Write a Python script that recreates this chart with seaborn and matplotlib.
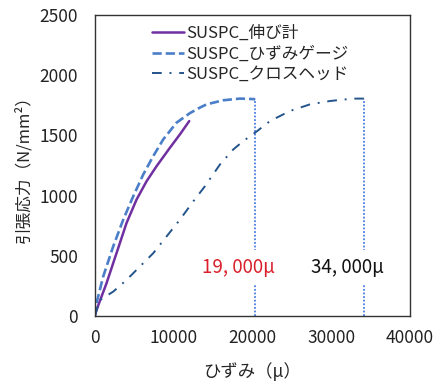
import numpy as np
import pandas as pd
import matplotlib
matplotlib.use("Agg")
import matplotlib.pyplot as plt
import seaborn as sns

# -----------------------------
# Data
# -----------------------------
ext_strain = [0, 210, 1480, 2750, 4020, 5290, 6560, 7830, 9520, 10790, 11980]
ext_stress = [0, 50, 272, 522, 772, 967, 1119, 1244, 1397, 1508, 1619]

gauge_strain = [0, 210, 1060, 2330, 3600, 4870, 6140, 7410, 8680, 10370, 12060,
                13330, 14180, 16290, 18410, 20100, 20350]
gauge_stress = [0, 106, 328, 578, 800, 994, 1175, 1328, 1467, 1606, 1685,
                1731, 1758, 1792, 1806, 1802, 1800]

cross_strain = [0, 635, 2330, 4020, 5710, 7410, 9100, 10790, 12490, 13970, 15870,
                17560, 18830, 20320, 22220, 24760, 27300, 29840, 32800, 34150]
cross_stress = [0, 133, 203, 300, 411, 522, 661, 800, 952, 1078, 1258,
                1383, 1453, 1522, 1619, 1703, 1758, 1786, 1806, 1806]

limit_strain = [20350, 34150]
limit_stress = [1800, 1800]
limit_labels = ["19, 000μ", "34, 000μ"]
label_colors = ["#d9202a", "#111111"]

series_names = ["SUSPC_伸び計", "SUSPC_ひずみゲージ", "SUSPC_クロスヘッド"]

# -----------------------------
# Plot
# -----------------------------
sns.set_style("white")
plt.rcParams['font.family'] = ['Noto Sans CJK JP', 'DejaVu Sans']

fig = plt.figure(figsize=(4.39, 3.85), dpi=100)
ax = fig.add_axes([0.216, 0.179, 0.718, 0.782])

df = pd.concat([
    pd.DataFrame({"strain": ext_strain, "stress": ext_stress, "series": series_names[0]}),
    pd.DataFrame({"strain": gauge_strain, "stress": gauge_stress, "series": series_names[1]}),
    pd.DataFrame({"strain": cross_strain, "stress": cross_stress, "series": series_names[2]}),
])

styles = {
    series_names[0]: dict(color="#7030a0", ls="-", lw=1.8),
    series_names[1]: dict(color="#4a7ec8", ls=(0, (3.5, 1.5)), lw=1.9),
    series_names[2]: dict(color="#24548c", ls=(0, (5, 4, 1, 4)), lw=1.4),
}
for name in series_names:
    d = df[df["series"] == name]
    sns.lineplot(data=d, x="strain", y="stress", ax=ax, label=name,
                 color=styles[name]["color"], linewidth=styles[name]["lw"],
                 linestyle=styles[name]["ls"], sort=False, estimator=None)

# vertical limit lines and labels
for xs, ys, lab, c in zip(limit_strain, limit_stress, limit_labels, label_colors):
    ax.plot([xs, xs], [0, ys], color="#4a7ee0", ls=(0, (1, 1)), lw=1.3, zorder=1)
    ax.text(xs - 2100, 400, lab, color=c, fontsize=13.5, ha="center", va="center",
            bbox=dict(facecolor="white", edgecolor="none", pad=5), zorder=2)

ax.set_xlim(0, 40000)
ax.set_ylim(0, 2500)
ax.set_xticks([0, 10000, 20000, 30000, 40000])
ax.set_yticks([0, 500, 1000, 1500, 2000, 2500])
ax.tick_params(direction="in", length=4, labelsize=12.5, colors="#222222")
ax.tick_params(axis="x", pad=9)
ax.tick_params(axis="y", pad=12)
for s in ax.spines.values():
    s.set_color("#333333")
    s.set_linewidth(1.0)

ax.set_xlabel("ひずみ（μ）", fontsize=12.5, labelpad=11)
ax.set_ylabel("引張応力（N/mm²）", fontsize=12, labelpad=5)

leg = ax.legend(loc="upper left", bbox_to_anchor=(0.15, 1.0), frameon=False,
                fontsize=12, handlelength=1.9, handletextpad=0.15, labelspacing=0.2,
                borderaxespad=0.2)

fig.savefig("out.png", dpi=100)
